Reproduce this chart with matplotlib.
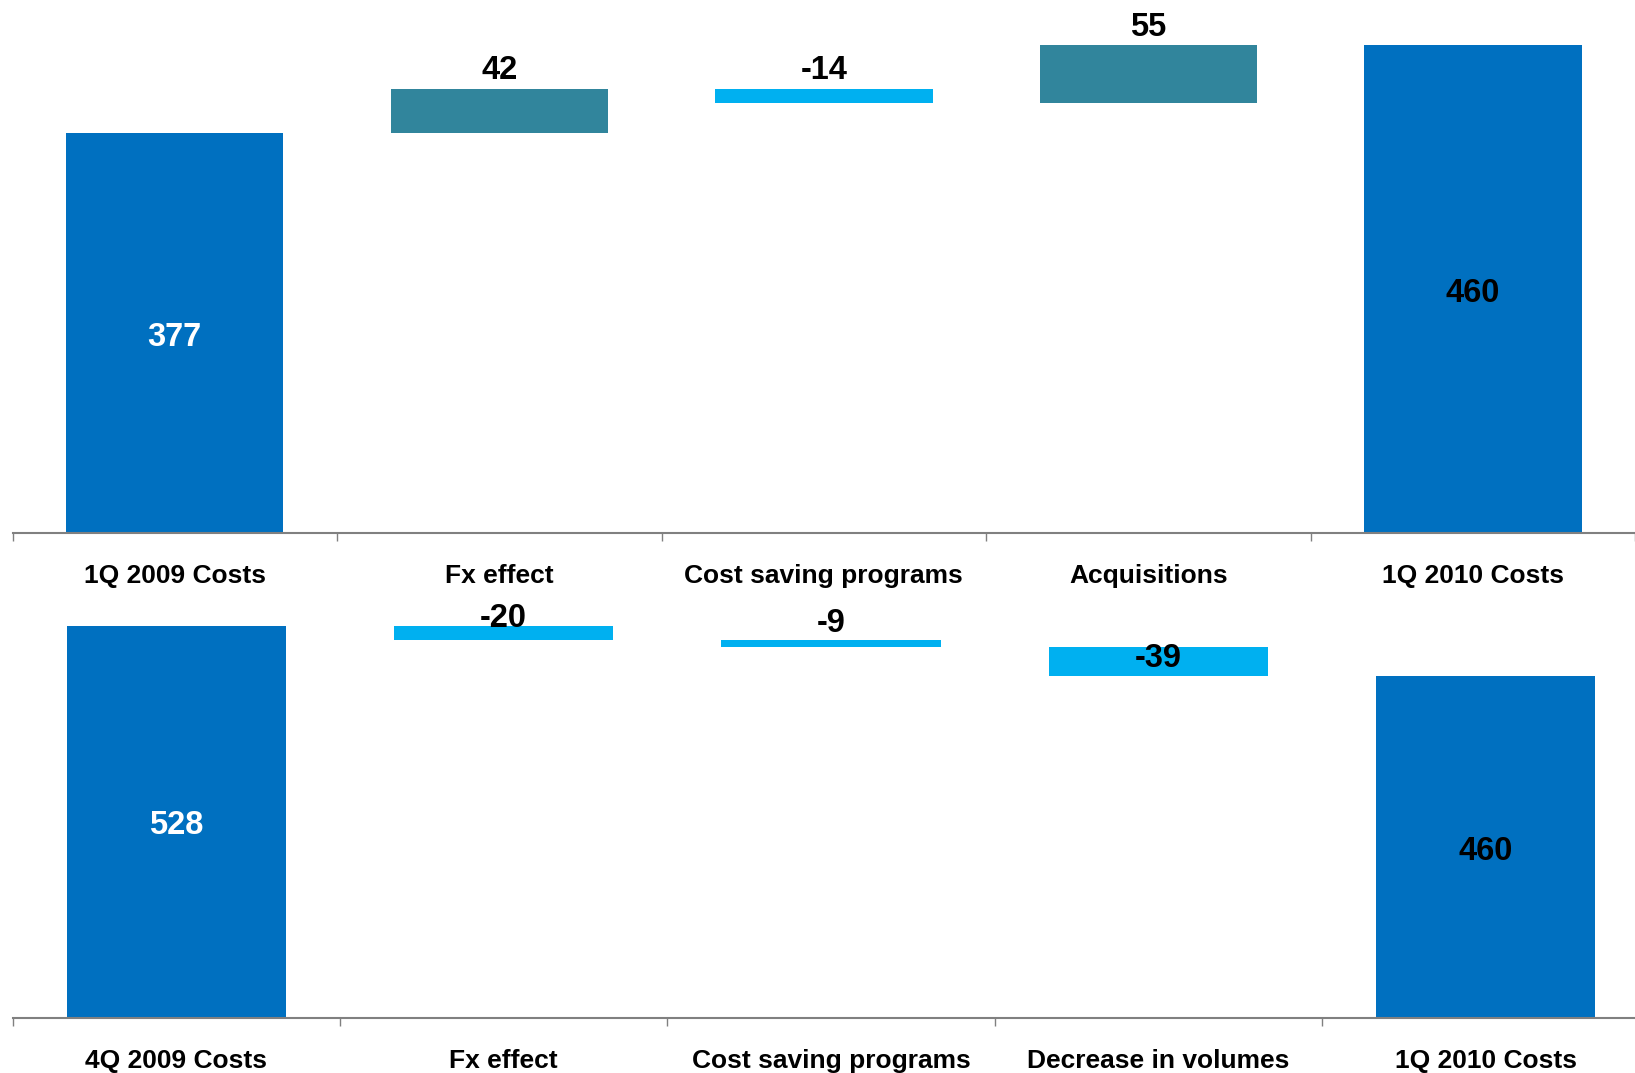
import matplotlib
matplotlib.use("Agg")
import matplotlib.pyplot as plt
from matplotlib.ticker import FixedLocator

plt.rcParams['font.family'] = ['Liberation Sans', 'DejaVu Sans']
plt.rcParams['font.weight'] = 'bold'

# 1Q 2009 -> 1Q 2010 cost bridge
yoy_labels = ['1Q 2009 Costs', 'Fx effect', 'Cost saving programs', 'Acquisitions', '1Q 2010 Costs']
yoy_start = 377
yoy_steps = [42, -14, 55]
yoy_end = 460

# 4Q 2009 -> 1Q 2010 cost bridge
qoq_labels = ['4Q 2009 Costs', 'Fx effect', 'Cost saving programs', 'Decrease in volumes', '1Q 2010 Costs']
qoq_start = 528
qoq_steps = [-20, -9, -39]
qoq_end = 460

TOTAL_COLOR = '#0070C0'
UP_COLOR = '#31859C'
DOWN_COLOR = '#00B0F0'
VALUE_SIZE = 23.5


def draw_bridge(ax, labels, start, steps, end, ymax, step_label_dy, total_text_colors):
    n = len(labels)
    width = 0.67

    # opening and closing totals, value written in the middle of the bar
    ax.bar(0, start, width=width, color=TOTAL_COLOR)
    ax.bar(n - 1, end, width=width, color=TOTAL_COLOR)
    for x, v, c in [(0, start, total_text_colors[0]), (n - 1, end, total_text_colors[1])]:
        ax.annotate(str(v), (x, v / 2), xytext=(0, -3), textcoords='offset points',
                    ha='center', va='center', fontsize=VALUE_SIZE, color=c)

    # floating steps in between
    level = start
    for i, (s, dy) in enumerate(zip(steps, step_label_dy), start=1):
        bottom = level if s >= 0 else level + s
        ax.bar(i, abs(s), bottom=bottom, width=width,
               color=UP_COLOR if s >= 0 else DOWN_COLOR)
        ax.annotate(str(s), (i, bottom + abs(s)), xytext=(0, dy),
                    textcoords='offset points', ha='center', va='center',
                    fontsize=VALUE_SIZE, color='black')
        level += s

    ax.set_xlim(-0.5, n - 0.5)
    ax.set_ylim(0, ymax)
    for side in ['top', 'right', 'left']:
        ax.spines[side].set_visible(False)
    ax.spines['bottom'].set_color('#808080')
    ax.spines['bottom'].set_linewidth(1.5)
    ax.set_yticks([])

    # labels centred under bars, tick marks on the category boundaries
    ax.set_xticks(range(n))
    ax.set_xticklabels(labels, fontsize=19)
    ax.tick_params(axis='x', which='major', length=0, pad=22)
    ax.xaxis.set_minor_locator(FixedLocator([i - 0.5 for i in range(n + 1)]))
    ax.tick_params(axis='x', which='minor', length=6, width=1, color='#808080')


fig = plt.figure(figsize=(16.35, 10.73), dpi=100)

ax_top = fig.add_axes([0.00765, 0.5033, 0.9924, 0.4967])
draw_bridge(ax_top, yoy_labels, yoy_start, yoy_steps, yoy_end, 502.6,
            [13, 13, 13], ['white', 'black'])

ax_bot = fig.add_axes([0.00765, 0.0513, 1.0012, 0.3989])
draw_bridge(ax_bot, qoq_labels, qoq_start, qoq_steps, qoq_end, 576,
            [5, 12, -8], ['white', 'black'])

fig.savefig('out.png', dpi=100)
